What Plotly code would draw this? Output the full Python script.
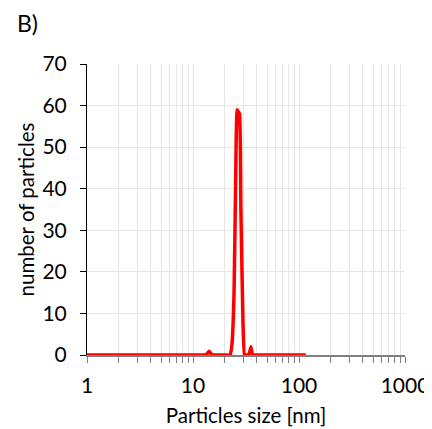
import plotly.graph_objects as go

size_nm = [1, 2, 5, 10, 12, 13.0, 13.6, 14.2, 14.8, 15.4, 20, 22.3, 23.3, 24.4, 25.2,
           26.1, 27.5, 28.3, 29.6, 30.6, 32.0, 33.0, 34.2, 35.2, 36.5, 38, 50, 80, 116]
counts = [0, 0, 0, 0, 0, 0, 0.3, 0.9, 0.3, 0, 0, 0, 2.5, 15, 40,
          59, 58, 35, 8, 0, 0, 0, 0.6, 2.0, 0, 0, 0, 0, 0]

y_ticks = [0, 10, 20, 30, 40, 50, 60, 70]
x_ticks = [m * d for d in (1, 10, 100) for m in range(1, 10)] + [1000]
x_text = [str(v) if v in (1, 10, 100, 1000) else "" for v in x_ticks]

fig = go.Figure()
fig.add_trace(go.Scatter(x=size_nm, y=counts, mode="lines",
                         line=dict(color="#ff0000", width=3.5, shape="spline", smoothing=0.3),
                         showlegend=False, cliponaxis=False))

font = "Lato, Open Sans, sans-serif"
# page body has an 8px margin, so the figure is 8px smaller than the window
fig.update_layout(
    width=424, height=421,
    margin=dict(l=79, r=27, t=56, b=74),
    paper_bgcolor="white", plot_bgcolor="white",
    font=dict(family=font, size=20.5, color="#000000"),
    xaxis=dict(type="log", range=[0, 3], tickvals=x_ticks, ticktext=x_text,
               ticks="outside", ticklen=6, tickcolor="#808080", tickwidth=1,
               showgrid=True, gridcolor="#e6e6e6", gridwidth=1,
               showline=True, linecolor="#808080", linewidth=1.5,
               zeroline=False, tickfont=dict(size=21), automargin=False,
               ticklabelstandoff=5,
               title=dict(text="Particles size [nm]", font=dict(size=20.5), standoff=13)),
    yaxis=dict(range=[0, 70], tickvals=y_ticks,
               ticks="outside", ticklen=6, tickcolor="#000000",
               showgrid=True, gridcolor="#e6e6e6", gridwidth=1,
               showline=True, linecolor="#000000", linewidth=1,
               zeroline=False, tickfont=dict(size=21), automargin=False,
               ticklabelstandoff=9,
               title=dict(text="number of particles", font=dict(size=20.5), standoff=2)),
    annotations=[dict(text="B)", xref="paper", yref="paper", x=-0.226, y=1.141,
                      xanchor="left", yanchor="middle", showarrow=False,
                      font=dict(size=23))],
)
fig.write_html("out.html")
